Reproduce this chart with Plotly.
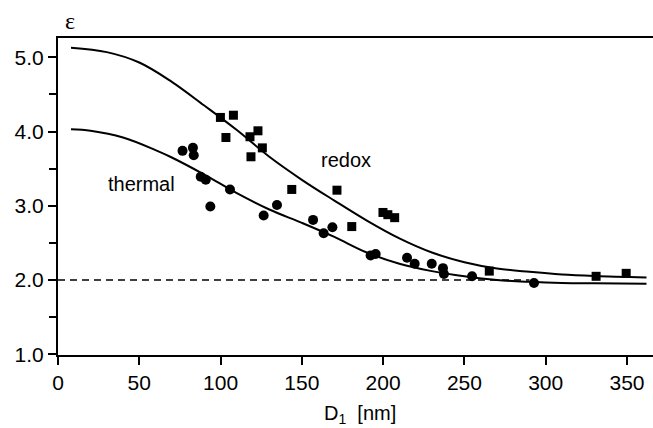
import plotly.graph_objects as go

# Data
redox_x = [99.9, 107.9, 103.3, 118.1, 123.0, 125.7, 118.7, 143.8, 171.6, 180.7,
           199.9, 202.9, 207.1, 265.3, 331.0, 349.5]
redox_y = [4.19, 4.22, 3.92, 3.93, 4.01, 3.78, 3.66, 3.22, 3.21, 2.72,
           2.91, 2.88, 2.84, 2.12, 2.05, 2.09]

thermal_x = [76.6, 83.0, 83.5, 87.8, 90.9, 93.7, 105.8, 126.5, 134.7, 156.9,
             163.4, 168.8, 192.3, 195.4, 214.7, 219.4, 229.9, 236.8, 237.4,
             254.7, 292.8]
thermal_y = [3.74, 3.78, 3.68, 3.39, 3.35, 2.99, 3.22, 2.87, 3.01, 2.81,
             2.63, 2.71, 2.33, 2.35, 2.30, 2.22, 2.22, 2.16, 2.08,
             2.05, 1.96]

redox_fit_x = [8, 30, 50, 70, 90, 110, 130, 150, 170, 190, 210, 230, 250, 270, 290, 310, 330, 362]
redox_fit_y = [5.13, 5.07, 4.93, 4.67, 4.35, 4.02, 3.66, 3.35, 3.07, 2.80, 2.56, 2.37, 2.24,
               2.155, 2.11, 2.075, 2.055, 2.035]

thermal_fit_x = [8, 20, 40, 60, 70, 90, 110, 130, 150, 170, 190, 210, 230, 250, 270, 290, 310, 330, 362]
thermal_fit_y = [4.03, 4.01, 3.92, 3.75, 3.65, 3.42, 3.17, 2.95, 2.77, 2.58, 2.37, 2.22, 2.12,
                 2.05, 2.00, 1.975, 1.96, 1.955, 1.95]

ref_x = [0, 290]
ref_y = [2.0, 2.0]

x_ticks = [0, 50, 100, 150, 200, 250, 300, 350]
y_ticks = [1.0, 2.0, 3.0, 4.0, 5.0]

FONT = "Liberation Sans, Arial, Helvetica, sans-serif"

fig = go.Figure()
fig.add_trace(go.Scatter(x=ref_x, y=ref_y, mode="lines",
                         line=dict(color="black", width=1.6, dash="7px,5px"),
                         showlegend=False, hoverinfo="skip"))
fig.add_trace(go.Scatter(x=redox_fit_x, y=redox_fit_y, mode="lines",
                         line=dict(color="black", width=2, shape="spline"),
                         showlegend=False))
fig.add_trace(go.Scatter(x=thermal_fit_x, y=thermal_fit_y, mode="lines",
                         line=dict(color="black", width=2, shape="spline"),
                         showlegend=False))
fig.add_trace(go.Scatter(x=redox_x, y=redox_y, mode="markers",
                         marker=dict(symbol="square", size=9, color="black"),
                         showlegend=False, name="redox"))
fig.add_trace(go.Scatter(x=thermal_x, y=thermal_y, mode="markers",
                         marker=dict(symbol="circle", size=10, color="black"),
                         showlegend=False, name="thermal"))

fig.add_annotation(x=51.3, y=3.29, text="thermal", showarrow=False,
                   font=dict(size=20, color="black", family=FONT))
fig.add_annotation(x=177, y=3.61, text="redox", showarrow=False,
                   font=dict(size=20, color="black", family=FONT))
fig.add_annotation(xref="paper", yref="paper", x=0.02, y=1.054, text="ε",
                   showarrow=False, xanchor="center", yanchor="middle",
                   font=dict(size=24, color="black",
                             family="Liberation Serif, DejaVu Serif, serif"))
fig.add_annotation(xref="paper", yref="paper", x=0.507, y=-0.188,
                   text="D<sub>1</sub>  [nm]", showarrow=False, yanchor="middle",
                   font=dict(size=20, color="black", family=FONT))

fig.update_layout(
    width=653, height=428,
    margin=dict(l=58, r=0, t=38, b=73),
    paper_bgcolor="white", plot_bgcolor="white",
    font=dict(family=FONT, size=20, color="black"),
    xaxis=dict(range=[0, 366], tickvals=x_ticks, ticks="outside", ticklen=8,
               tickwidth=1.5, tickcolor="black", showline=True, linewidth=2,
               linecolor="black", mirror=True, showgrid=False, zeroline=False,
               tickfont=dict(size=21)),
    yaxis=dict(range=[0.99, 5.26], tickvals=y_ticks, tickformat=".1f",
               ticks="outside", ticklen=8, tickwidth=1.5, tickcolor="black",
               showline=True, linewidth=2, linecolor="black", showgrid=False,
               zeroline=False, tickfont=dict(size=21),
               minor=dict(dtick=0.5, ticks="outside", ticklen=7, tickwidth=1.5,
                          tickcolor="black", showgrid=False)),
)

fig.write_html("out.html")
